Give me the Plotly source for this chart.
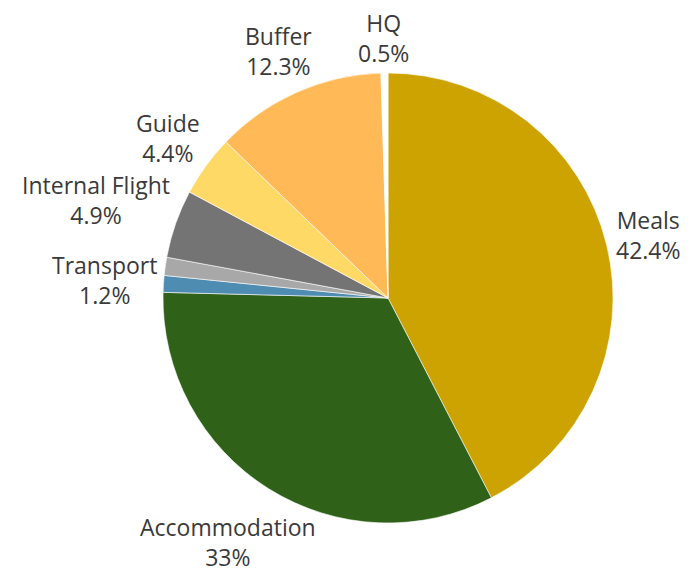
import math
import plotly.graph_objects as go

categories = ["Meals", "Accommodation", "Transport", "Other", "Internal Flight", "Guide", "Buffer", "HQ"]
shares = [42.4, 33, 1.2, 1.3, 4.9, 4.4, 12.3, 0.5]
slice_colors = ["#CCA300", "#2F6119", "#4F8CB2", "#A8A8A8", "#747474", "#FFD966", "#FFB957", "#FFFFFF"]
show_label = [True, True, True, False, True, True, True, True]

W, H = 696, 574
cx, cy, R = 380, 290, 225   # page body adds an 8px offset
FS = 23

fig = go.Figure(go.Pie(
    labels=categories, values=shares, sort=False, direction="clockwise", rotation=0,
    marker=dict(colors=slice_colors, line=dict(color="white", width=0.6)),
    textinfo="none", showlegend=False,
    domain=dict(x=[(cx - R) / W, (cx + R) / W], y=[(H - cy - R) / H, (H - cy + R) / H]),
))


def text_width(s, fs):
    # rough Open Sans advance widths (fraction of em)
    w = 0
    for ch in s:
        if ch in "iIlj.,: ":
            w += 0.27
        elif ch in "ftr":
            w += 0.36
        elif ch == "%":
            w += 0.82
        elif ch in "mMw":
            w += 0.86
        elif ch.isupper():
            w += 0.64
        else:
            w += 0.56
    return w * fs


# outside-end labels along each slice's mid angle
total = sum(shares)
cum = 0
boxes = []
for cat, val, show in zip(categories, shares, show_label):
    mid = (cum + val / 2) / total * 2 * math.pi
    cum += val
    if not show:
        continue
    pct = f"{val:g}%"
    dx, dy = math.sin(mid), -math.cos(mid)
    bw = max(text_width(cat, FS), text_width(pct, FS))
    bh = 2 * 1.3 * FS
    d = R + 5 + abs(dx) * bw / 2 + abs(dy) * bh / 2
    lx, ly = cx + d * dx, cy + d * dy
    ly = min(ly, H - 10 - bh / 2)
    boxes.append(dict(text=f"{cat}<br>{pct}", x=lx, y=ly, w=bw, h=bh))

# push left-side labels apart from the top down
left = sorted([b for b in boxes if b["x"] < cx - 40], key=lambda b: b["y"])
for upper, lower in zip(left, left[1:]):
    xo = min(upper["x"] + upper["w"] / 2, lower["x"] + lower["w"] / 2) - max(upper["x"] - upper["w"] / 2, lower["x"] - lower["w"] / 2)
    gap = (lower["y"] - lower["h"] / 2) - (upper["y"] + upper["h"] / 2)
    if xo > 0 and gap < 2:
        lower["y"] += 2 - gap

for b in boxes:
    fig.add_annotation(
        x=b["x"] / W, y=1 - b["y"] / H, xref="paper", yref="paper",
        text=b["text"], showarrow=False, xanchor="center", yanchor="middle",
        font=dict(family="Open Sans", size=FS, color="#3a3a3a"),
    )

fig.update_layout(
    width=W, height=H,
    margin=dict(l=0, r=0, t=0, b=0),
    paper_bgcolor="white",
)

fig.write_html("out.html")
